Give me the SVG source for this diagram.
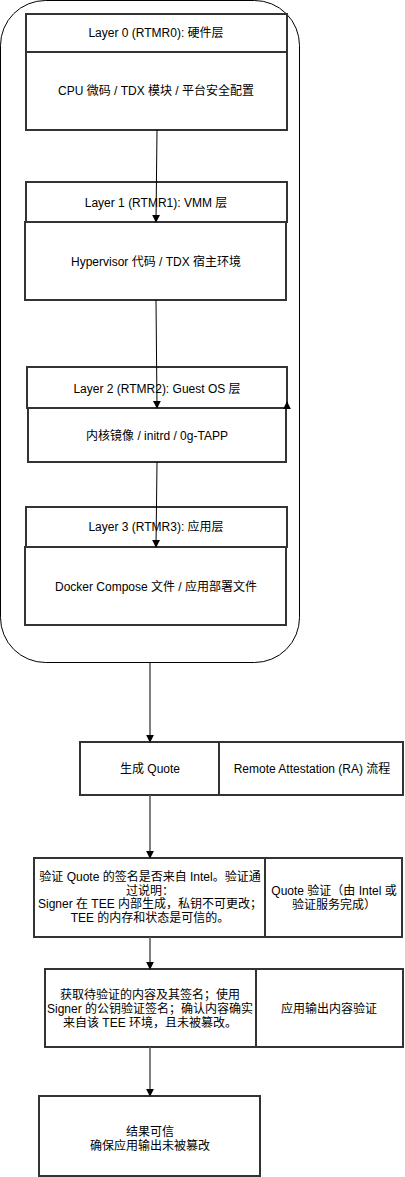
<svg xmlns="http://www.w3.org/2000/svg" width="405" height="1177" viewBox="0 0 405 1177">
<style>
.b{fill:#fff;stroke:#333;stroke-width:2}
.t{font-family:"Liberation Sans","Noto Sans CJK SC",sans-serif;font-size:12px;fill:#000;text-anchor:middle;dominant-baseline:central}
.c{fill:none;stroke:#000;stroke-width:1}
.c2{fill:none;stroke:#555;stroke-width:1.5}
</style>
<defs>
<marker id="a" viewBox="0 0 10 10" refX="9" refY="5" markerWidth="8" markerHeight="8" markerUnits="userSpaceOnUse" orient="auto"><path d="M0,0L10,5L0,10z" fill="#000"/></marker>
</defs>
<g id="container"><rect x="0.5" y="0.5" width="299" height="662" rx="45" fill="#fff" stroke="#000" stroke-width="1"/></g>
<g id="layer0">
<rect class="b" x="26" y="14" width="261" height="38"/><text class="t" x="156" y="33">Layer 0 (RTMR0): 硬件层</text>
<rect class="b" x="26" y="52" width="261" height="78"/><text class="t" x="156" y="91">CPU 微码 / TDX 模块 / 平台安全配置</text>
</g>
<g id="layer1">
<rect class="b" x="26" y="182" width="261" height="40"/><text class="t" x="156" y="203">Layer 1 (RTMR1): VMM 层</text>
<rect class="b" x="25" y="222" width="261" height="78"/><text class="t" x="156" y="262">Hypervisor 代码 / TDX 宿主环境</text>
</g>
<g id="layer2">
<rect class="b" x="27" y="367" width="260" height="41"/><text class="t" x="157" y="389">Layer 2 (RTMR2): Guest OS 层</text>
<rect class="b" x="28" y="408" width="258" height="54"/><text class="t" x="157" y="436">内核镜像 / initrd / 0g-TAPP</text>
</g>
<g id="layer3">
<rect class="b" x="26" y="507" width="261" height="40"/><text class="t" x="156" y="527">Layer 3 (RTMR3): 应用层</text>
<rect class="b" x="25" y="547" width="261" height="78"/><text class="t" x="156" y="587">Docker Compose 文件 / 应用部署文件</text>
</g>
<g id="quote">
<rect class="b" x="80" y="742" width="139" height="53"/><text class="t" x="150" y="769">生成 Quote</text>
<rect class="b" x="219" y="742" width="184" height="53"/><text class="t" x="312" y="769">Remote Attestation (RA) 流程</text>
</g>
<g id="verify">
<rect class="b" x="34" y="858" width="231" height="79"/>
<text class="t" x="150" y="877">验证 Quote 的签名是否来自 Intel。验证通</text>
<text class="t" x="150" y="891">过说明：</text>
<text class="t" x="150" y="904">Signer 在 TEE 内部生成，私钥不可更改；</text>
<text class="t" x="150" y="918">TEE 的内存和状态是可信的。</text>
<rect class="b" x="265" y="858" width="137" height="79"/>
<text class="t" x="334" y="891">Quote 验证（由 Intel 或</text>
<text class="t" x="334" y="905">验证服务完成）</text>
</g>
<g id="output">
<rect class="b" x="45" y="969" width="211" height="78"/>
<text class="t" x="150" y="995">获取待验证的内容及其签名；使用</text>
<text class="t" x="150" y="1009">Signer 的公钥验证签名；确认内容确实</text>
<text class="t" x="150" y="1023">来自该 TEE 环境，且未被篡改。</text>
<rect class="b" x="256" y="969" width="147" height="78"/>
<text class="t" x="329" y="1009">应用输出内容验证</text>
</g>
<g id="result">
<rect class="b" x="39" y="1096" width="221" height="80"/>
<text class="t" x="150" y="1132">结果可信</text>
<text class="t" x="150" y="1146">确保应用输出未被篡改</text>
</g>
<g id="connectors">
<path class="c" d="M157,130 L156,222" marker-end="url(#a)"/>
<path class="c" d="M156,300 L157,408" marker-end="url(#a)"/>
<path class="c" d="M157,462 L156,547" marker-end="url(#a)"/>
<path class="c" d="M287,409 L287,402" marker-end="url(#a)"/>
<path class="c2" d="M150,663 L150,742" marker-end="url(#a)"/>
<path class="c2" d="M150,795 L150,858" marker-end="url(#a)"/>
<path class="c2" d="M150,937 L150,969" marker-end="url(#a)"/>
<path class="c2" d="M150,1047 L150,1096" marker-end="url(#a)"/>
</g>
</svg>
